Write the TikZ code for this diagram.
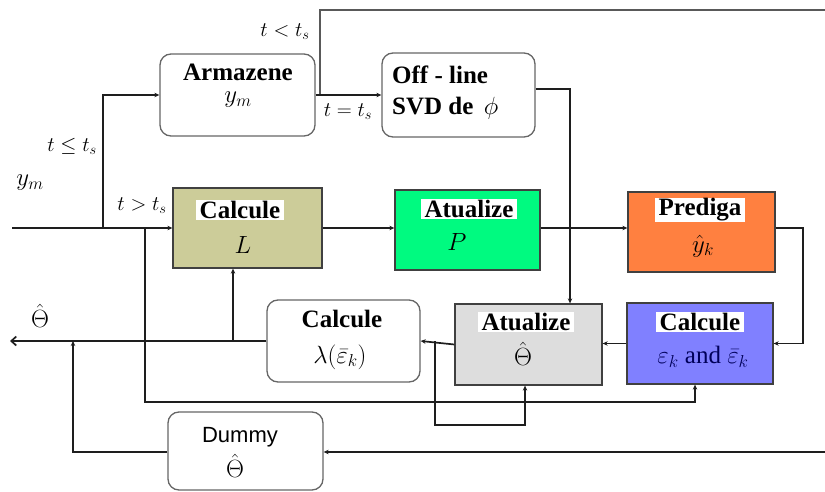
\documentclass[tikz,border=0pt]{standalone}
\usepackage{fontspec}
\setmainfont{Liberation Serif}
\newfontfamily\dumfont{Liberation Sans}
\usetikzlibrary{arrows.meta,calc}
\definecolor{olivebox}{RGB}{204,204,153}
\definecolor{greenbox}{RGB}{0,250,128}
\definecolor{orangebox}{RGB}{255,128,64}
\definecolor{graybox}{RGB}{221,221,221}
\definecolor{bluebox}{RGB}{128,128,255}
\definecolor{wirecol}{RGB}{30,30,30}
\begin{document}
\begin{tikzpicture}[x=1pt,y=-1pt,
  blk/.style={draw=black!75, line width=1.3pt, inner sep=0pt},
  rbox/.style={draw=black!60, line width=1.3pt, rounded corners=11pt, inner sep=0pt, fill=white},
  wire/.style={line width=1.7pt, draw=wirecol},
  arr/.style={wire, -{Stealth[length=5pt,width=4.5pt]}},
  hdr/.style={font=\fontsize{25}{30}\selectfont\bfseries, inner sep=1pt},
  hdrw/.style={hdr, fill=white, inner xsep=4pt, inner ysep=1pt},
  mth/.style={font=\fontsize{25}{30}\selectfont, inner sep=0pt},
  lbl/.style={font=\fontsize{20}{24}\selectfont, inner sep=0pt}]
\useasboundingbox (0,0) rectangle (825,492);

% boxes
\node[rbox, minimum width=155pt, minimum height=82pt] (arm) at (237.5,95) {};
\node[rbox, minimum width=153pt, minimum height=84pt] (svd) at (458.5,95) {};
\node[blk, fill=olivebox, minimum width=149pt, minimum height=80pt] (calL) at (247.5,228) {};
\node[blk, fill=greenbox, minimum width=145pt, minimum height=80pt] (atuP) at (467.5,230) {};
\node[blk, fill=orangebox, minimum width=147pt, minimum height=80pt] (pred) at (701.5,232) {};
\node[rbox, minimum width=153pt, minimum height=82pt] (lam) at (343.5,341) {};
\node[blk, fill=graybox, minimum width=147pt, minimum height=81pt] (atuT) at (528.5,344.5) {};
\node[blk, fill=bluebox, minimum width=146pt, minimum height=81pt] (calE) at (700,343.5) {};
\node[rbox, minimum width=155pt, minimum height=78pt] (dum) at (245.5,451) {};

% texts
\node[hdr] (tArm) at (238,72) {Armazene};
\node[mth] (tArm2) at (238,100) {$y_m$};
\node[hdr, anchor=west] (tSvd1) at (391,75) {Off - line};
\node[hdr, anchor=west] (tSvd2) at (391,108) {SVD de \,$\phi$};
\node[hdrw] (tCalL) at (240,210) {Calcule};
\node[mth] (tCalL2) at (243,245) {$L$};
\node[hdrw] (tAtuP) at (469,209) {Atualize};
\node[mth] (tAtuP2) at (457,242) {$P$};
\node[hdrw] (tPred) at (700,210) {Prediga};
\node[mth] (tPred2) at (703,246) {$\hat{y}_k$};
\node[hdr] (tLam) at (342,319) {Calcule};
\node[mth] (tLam2) at (340,357) {$\lambda(\bar{\varepsilon}_k)$};
\node[hdrw] (tAtuT) at (526,322) {Atualize};
\node[mth] (tAtuT2) at (523,354) {$\hat{\Theta}$};
\node[hdrw] (tCalE) at (700,322) {Calcule};
\node[mth, text=blue!35!black] (tCalE2) at (703,357) {$\varepsilon_k$ and $\bar{\varepsilon}_k$};
\node[font=\fontsize{22}{26}\selectfont\dumfont, inner sep=0pt] (tDum) at (240,437) {Dummy};
\node[mth] (tDum2) at (235,466) {$\hat{\Theta}$};

% labels
\node[mth] (lym) at (30,183) {$y_m$};
\node[lbl] (lle) at (72,146) {$t\le t_s$};
\node[lbl] (lgt) at (142,206) {$t>t_s$};
\node[lbl] (llt) at (285,32) {$t<t_s$};
\node[lbl] (leq) at (348,112) {$t=t_s$};
\node[mth] (lth) at (40,316) {$\hat{\Theta}$};

% free ends and junctions
\coordinate (topR) at (825,10);
\coordinate (jTop) at (320,94);
\coordinate (inL) at (12,228);
\coordinate (jIn) at (103,228);
\coordinate (jIn2) at (145,228);
\coordinate (jPR) at (803,228);
\coordinate (jSvd) at (570,89);
\coordinate (jLam) at (435,341);
\coordinate (jLoop) at (435,425);
\coordinate (jLoop2) at (525,425);
\coordinate (outL) at (10,341);
\coordinate (jL) at (233,341);
\coordinate (jDum) at (73,341);
\coordinate (jBot) at (145,402);
\coordinate (dumR) at (825,452);

% wires
\draw[wire, draw=black!65, line width=2.4pt] (topR) -| (jTop);
\draw[arr] (arm.east) -- (svd.west);
\draw[arr] (inL) -- (calL.west);
\draw[arr] (jIn) |- (arm.west);
\draw[arr] (calL.east) -- (calL.east -| atuP.west);
\draw[arr] (calL.east -| atuP.east) -- (calL.east -| pred.west);
\draw[arr] (calL.east -| pred.east) -- (jPR) |- (calE.east);
\draw[arr] (calE.west) -- (calE.west -| atuT.east);
\draw[arr] (svd.east |- jSvd) -- (jSvd) -- (jSvd |- atuT.north);
\draw[arr] (atuT.west) -- (lam.east);
\draw[arr] (jLam) -- (jLoop) -- (jLoop2) -- (jLoop2 |- atuT.south);
\draw[wire, -{Straight Barb[length=5pt,width=9pt]}] (lam.west) -- (outL);
\draw[arr] (jL) -- (jL |- calL.south);
\draw[arr] (jIn2) -- (jBot) -| (calE.south -| 695,0);
\draw[arr] (dumR) -- (dum.east |- dumR);
\draw[arr] (dum.west |- dumR) -| (jDum);
\end{tikzpicture}
\end{document}
